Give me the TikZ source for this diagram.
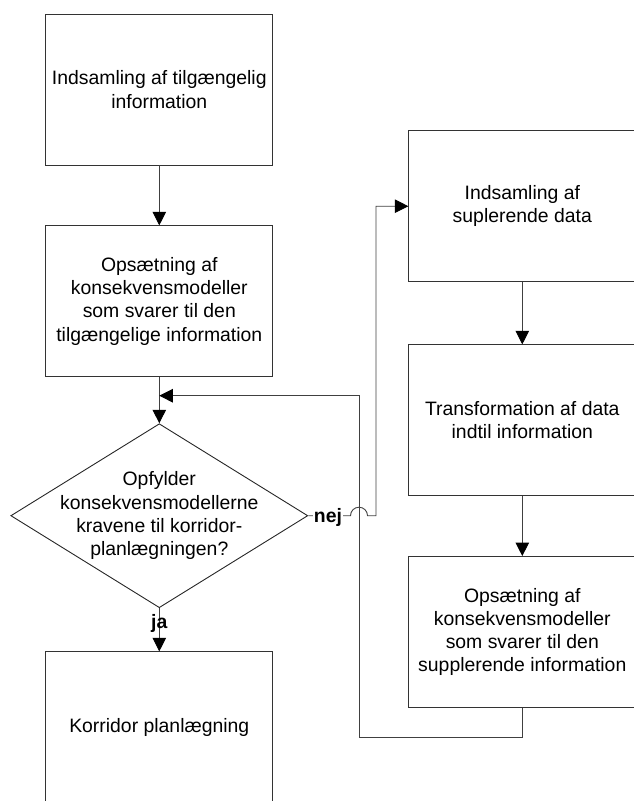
\documentclass[tikz,border=0pt]{standalone}
\usepackage{fontspec}
\setmainfont{Liberation Sans}
\usetikzlibrary{shapes.geometric,arrows.meta}
\begin{document}
\begin{tikzpicture}[x=1pt,y=-1pt,
  every node/.style={font=\fontsize{19.4}{23.3}\selectfont, text=black},
  procbox/.style={draw=black!80, line width=0.9pt, minimum width=227pt, minimum height=151pt, align=center, inner sep=0pt},
  decbox/.style={diamond, draw=black!85, line width=0.9pt, minimum width=297pt, minimum height=184pt, inner sep=0pt},
  flow/.style={draw=black!75, line width=0.9pt},
  flowarr/.style={flow, -{Triangle[length=13.5pt,width=13.5pt,color=black,fill=black]}},
  lbl/.style={font=\fontsize{19.4}{23.3}\selectfont\bfseries, fill=white, inner sep=0.6pt}
]
\useasboundingbox (0,0) rectangle (633,801);
\node[procbox] (b1) at (159.3,89.5) {Indsamling af tilgængelig\\information};
\node[procbox] (b2) at (159.3,301.3) {Opsætning af\\konsekvensmodeller\\som svarer til den\\tilgængelige information};
\node[decbox] (dec) at (159.3,515.7) {};
\node[align=center] (dectext) at (dec.center) {Opfylder\\konsekvensmodellerne\\kravene til korridor-\\planlægningen?};
\node[procbox] (b3) at (159.3,727.3) {Korridor planlægning};
\node[procbox] (b4) at (522.3,206.2) {Indsamling af\\suplerende data};
\node[procbox] (b5) at (522.3,420.3) {Transformation af data\\indtil information};
\node[procbox] (b6) at (522.3,632) {Opsætning af\\konsekvensmodeller\\som svarer til den\\supplerende information};

\coordinate (jl) at (350.5,515.7);
\coordinate (jr) at (367.5,515.7);
\coordinate (up) at (376,515.7);
\coordinate (rb) at (522.3,737);
\coordinate (lb) at (359,737);
\coordinate (lt) at (359,395.7);
\coordinate (mt) at (159.3,395.7);

\draw[flowarr] (b1.south) -- (b2.north);
\draw[flowarr] (b2.south) -- (dec.north);
\draw[flowarr] (dec.south) -- (b3.north);
\draw[flowarr] (b4.south) -- (b5.north);
\draw[flowarr] (b5.south) -- (b6.north);
\draw[flowarr] (b6.south) -- (rb) -- (lb) -- (lt) -- (mt);
\draw[flowarr] (dec.east) -- (jl) arc[start angle=180, end angle=360, radius=8.5] -- (up) |- (b4.west);

\node[lbl] (nej) at (328,517) {nej};
\node[lbl, fill=none] (ja) at (159.3,623) {ja};
\end{tikzpicture}
\end{document}
